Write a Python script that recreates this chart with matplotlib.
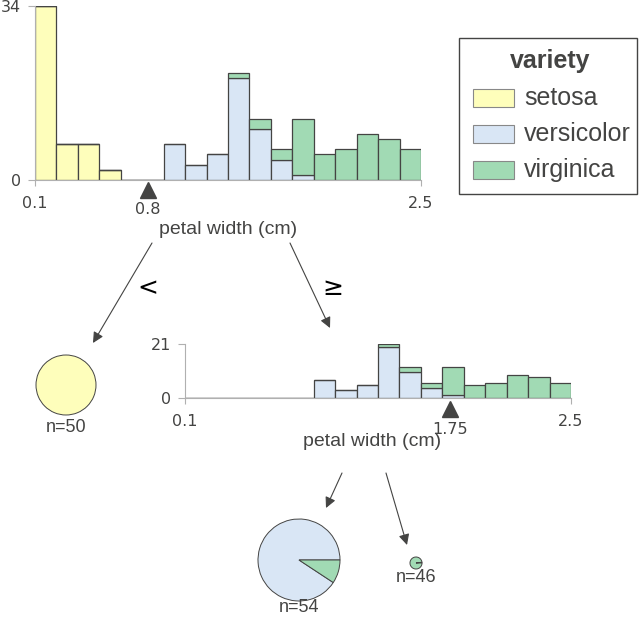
import numpy as np
import matplotlib
matplotlib.use("Agg")
import matplotlib.pyplot as plt
from matplotlib.patches import Rectangle
import matplotlib.transforms as mtrans

# ---- data ----
classes = ["setosa", "versicolor", "virginica"]
class_colors = ["#FEFEBB", "#D9E6F5", "#A1DAB4"]
legend_title = "variety"
feature = "petal width (cm)"
x_min, x_max = 0.1, 2.5
n_bins = 18
# counts per bin (root node)
setosa_counts     = [34, 7, 7, 2, 0, 0, 0, 0, 0, 0, 0, 0, 0, 0, 0, 0, 0, 0]
versicolor_counts = [0, 0, 0, 0, 0, 0, 7, 3, 5, 20, 10, 4, 1, 0, 0, 0, 0, 0]
virginica_counts  = [0, 0, 0, 0, 0, 0, 0, 0, 0, 1, 2, 2, 11, 5, 6, 9, 8, 6]
root_split = 0.8
child_split = 1.75
root_ymax = 34
child_ymax = 21
leaf_left = [50, 0, 0]       # n=50
leaf_rl = [0, 49, 5]         # n=54
leaf_rr = [0, 1, 45]         # n=46
branch_labels = ["<", "\u2265"]

EDGE = "#444443"
TXT = "#444443"
SPINE = "#b0b0b0"

W, H = 640, 617
fig = plt.figure(figsize=(W / 100, H / 100), dpi=100)


def box(x, y, w, h):
    return [x / W, 1 - (y + h) / H, w / W, h / H]


edges = np.linspace(x_min, x_max, n_bins + 1)
centers = (edges[:-1] + edges[1:]) / 2
width = edges[1] - edges[0]


def hist(ax, series, colors, ymax, split, split_label_y):
    bottom = np.zeros(n_bins)
    for vals, c in zip(series, colors):
        vals = np.array(vals, dtype=float)
        ax.bar(centers, vals, width, bottom=bottom, color=c,
               edgecolor=EDGE, linewidth=0.9)
        bottom += vals
    ax.set_xlim(x_min, x_max)
    ax.set_ylim(0, ymax)
    for s in ["top", "right"]:
        ax.spines[s].set_visible(False)
    for s in ["left", "bottom"]:
        ax.spines[s].set_color(SPINE)
        ax.spines[s].set_linewidth(0.8)
    ax.set_xticks([x_min, x_max])
    ax.set_xticklabels([str(x_min), str(x_max)])
    ax.set_yticks([0, ymax])
    ax.tick_params(axis="both", colors=SPINE, labelcolor=TXT,
                   labelsize=11.5, length=4, width=0.8)
    ax.tick_params(axis="x", pad=7.5)
    ax.tick_params(axis="y", length=5, pad=5)
    tr = mtrans.blended_transform_factory(ax.transData, ax.transAxes)
    ax.plot([split], [split_label_y[0]], marker="^", markersize=11,
            color=EDGE, transform=tr, clip_on=False)
    ax.text(split, split_label_y[1], f"{split}", transform=tr, ha="center",
            va="center", fontsize=11.5, color=TXT)


# top (root) histogram
ax1 = fig.add_axes(box(35, 6, 386, 174))
hist(ax1, [setosa_counts, versicolor_counts, virginica_counts],
     class_colors, root_ymax, root_split, (-10 / 174, -29.5 / 174))
fig.text(228 / W, 1 - 229 / H, feature, ha="center", va="center",
         fontsize=14, color=TXT, family="Liberation Sans")

# child histogram
ax2 = fig.add_axes(box(185, 344, 386, 54))
hist(ax2, [versicolor_counts, virginica_counts], class_colors[1:],
     child_ymax, child_split, (-11 / 54, -31 / 54))
fig.text(372 / W, 1 - 441 / H, feature, ha="center", va="center",
         fontsize=14, color=TXT, family="Liberation Sans")

# overlay for arrows and legend
ov = fig.add_axes([0, 0, 1, 1])
ov.set_xlim(0, W)
ov.set_ylim(H, 0)
ov.axis("off")
arrows = [((152, 243), (93, 343)), ((290, 243), (330, 328)),
          ((342, 473), (326, 508)), ((386, 473), (407, 545))]
for (x0, y0), (x1, y1) in arrows:
    ov.annotate("", xy=(x1, y1), xytext=(x0, y0),
                arrowprops=dict(arrowstyle="-|>", color=EDGE, lw=0.8,
                                mutation_scale=16, shrinkA=0, shrinkB=0))
ov.text(148, 288, branch_labels[0], ha="center", va="center", fontsize=18,
        color="black")
ov.text(333, 288, branch_labels[1], ha="center", va="center", fontsize=18,
        color="black")

# legend (drawn by hand for exact placement)
ov.add_patch(Rectangle((459, 38), 178, 156, facecolor="white",
                       edgecolor=EDGE, linewidth=1.0))
ov.text(550, 61, legend_title, ha="center", va="center", fontsize=18,
        weight="bold", color=TXT, family="Liberation Sans")
for i, (c, lab) in enumerate(zip(class_colors, classes)):
    yc = 98 + 36 * i
    ov.add_patch(Rectangle((473, yc - 9), 41, 18, facecolor=c,
                           edgecolor="#888888", linewidth=0.8))
    ov.text(524, yc, lab, ha="left", va="center", fontsize=18, color=TXT,
            family="Liberation Sans")


# leaves
def leaf(cx, cy, r, counts, label_y):
    a = fig.add_axes(box(cx - r, cy - r, 2 * r, 2 * r))
    vals = [v for v in counts if v > 0]
    cols = [c for v, c in zip(counts, class_colors) if v > 0]
    a.pie(vals, colors=cols, startangle=0, counterclock=True, radius=1,
          wedgeprops=dict(edgecolor=EDGE, linewidth=0.7))
    a.set_xlim(-1, 1)
    a.set_ylim(-1, 1)
    a.set_aspect("equal")
    a.axis("off")
    for p in a.patches:
        p.set_clip_on(False)
    fig.text(cx / W, 1 - label_y / H, f"n={sum(counts)}", ha="center",
             va="center", fontsize=13, color=TXT, family="Liberation Sans")


leaf(66, 385, 30, leaf_left, 428)
leaf(299, 560, 41, leaf_rl, 607)
leaf(416, 563, 6, leaf_rr, 578)

fig.savefig("out.png", dpi=100)
